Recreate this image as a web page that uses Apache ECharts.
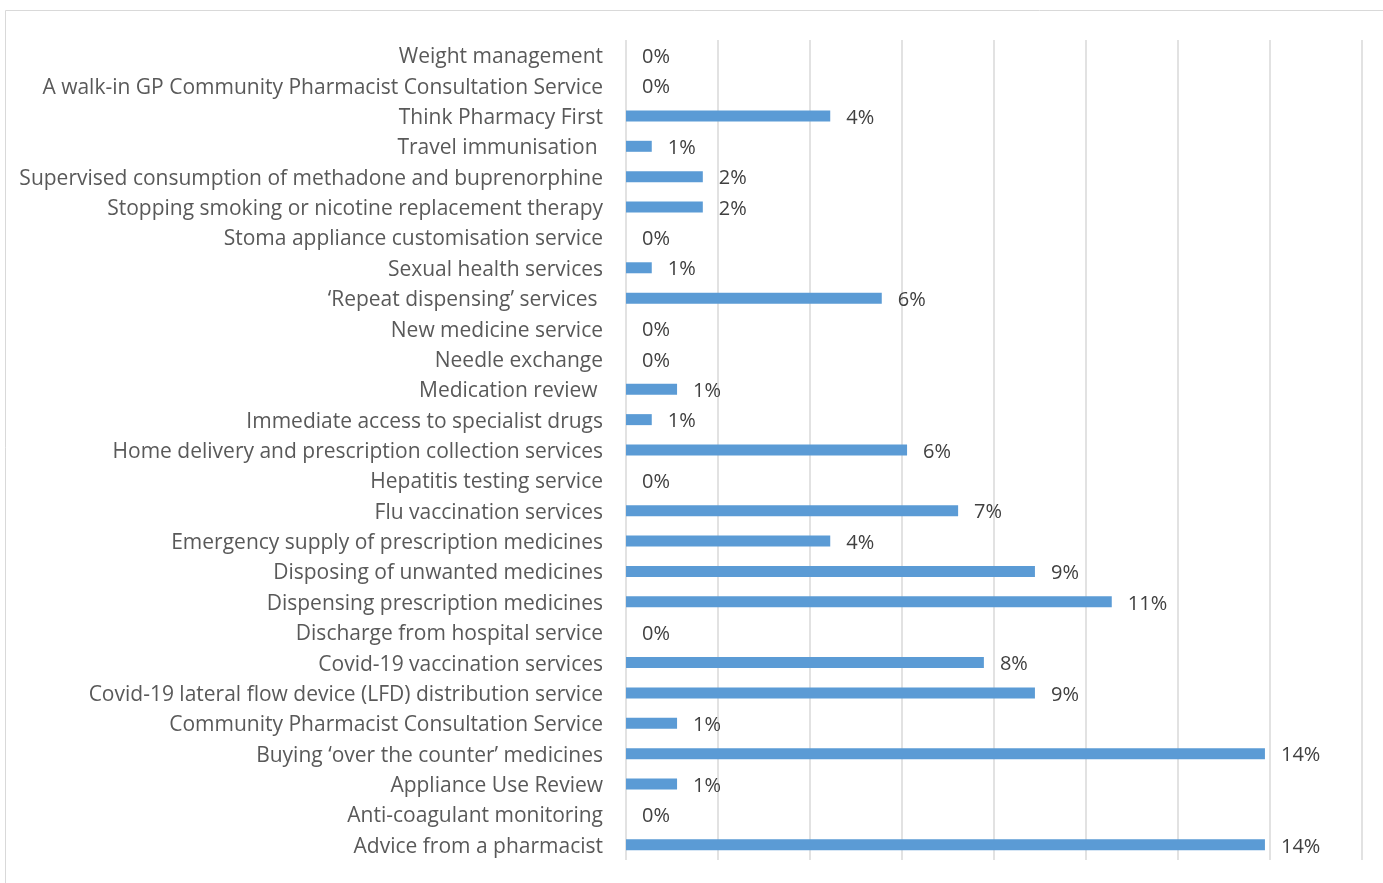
<!DOCTYPE html>
<html>
<head>
<meta charset="utf-8">
<script src="https://cdn.jsdelivr.net/npm/echarts@6/dist/echarts.min.js"></script>
<style>
  html, body { margin: 0; padding: 0; background: #ffffff; }
  #chart { width: 1383px; height: 883px; }
</style>
</head>
<body>
<div id="chart"></div>
<script>
// Services used at the pharmacy, top to bottom
const categories = [
  'Weight management',
  'A walk-in GP Community Pharmacist Consultation Service',
  'Think Pharmacy First',
  'Travel immunisation ',
  'Supervised consumption of methadone and buprenorphine',
  'Stopping smoking or nicotine replacement therapy',
  'Stoma appliance customisation service',
  'Sexual health services',
  '\u2018Repeat dispensing\u2019 services ',
  'New medicine service',
  'Needle exchange',
  'Medication review ',
  'Immediate access to specialist drugs',
  'Home delivery and prescription collection services',
  'Hepatitis testing service',
  'Flu vaccination services',
  'Emergency supply of prescription medicines',
  'Disposing of unwanted medicines',
  'Dispensing prescription medicines',
  'Discharge from hospital service',
  'Covid-19 vaccination services',
  'Covid-19 lateral flow device (LFD) distribution service',
  'Community Pharmacist Consultation Service',
  'Buying \u2018over the counter\u2019 medicines',
  'Appliance Use Review',
  'Anti-coagulant monitoring',
  'Advice from a pharmacist'
];

// Share of responses, in percent
const shares = [
  0, 0, 4.44, 0.56, 1.67, 1.67, 0, 0.56, 5.56, 0, 0, 1.11, 0.56, 6.11, 0,
  7.22, 4.44, 8.89, 10.56, 0, 7.78, 8.89, 1.11, 13.89, 1.11, 0, 13.89
];

// Value axis ticks (percent)
const axisMin = 0;
const axisMax = 16;
const axisStep = 2;

const FONT = 'Open Sans';

const chart = echarts.init(document.getElementById('chart'), null, { renderer: 'canvas' });

chart.setOption({
  animation: false,
  backgroundColor: '#ffffff',
  textStyle: { fontFamily: FONT },
  graphic: [{
    type: 'rect',
    silent: true,
    shape: { x: 5.5, y: 10.5, width: 1500, height: 1000 },
    style: { fill: 'none', stroke: '#d9d9d9', lineWidth: 1 }
  }],
  grid: { left: 626, right: 21, top: 40, bottom: 23, containLabel: false },
  xAxis: {
    type: 'value',
    min: axisMin,
    max: axisMax,
    interval: axisStep,
    axisLine: { show: false },
    axisTick: { show: false },
    axisLabel: { show: false },
    splitLine: { show: true, lineStyle: { color: '#d9d9d9', width: 1.5 } }
  },
  yAxis: {
    type: 'category',
    data: categories,
    inverse: true,
    axisLine: { show: false },
    axisTick: { show: false },
    axisLabel: {
      margin: 23,
      color: '#595959',
      fontFamily: FONT,
      fontSize: 21,
      formatter: v => '{t|' + v + '}',
      rich: {
        t: { color: '#595959', fontFamily: FONT, fontSize: 21, padding: [4, 0, 0, 0] }
      }
    }
  },
  series: [{
    type: 'bar',
    data: shares,
    barWidth: 11,
    itemStyle: { color: '#5b9bd5' },
    label: {
      show: true,
      position: 'right',
      distance: 16,
      color: '#404040',
      fontFamily: FONT,
      fontSize: 20,
      formatter: p => '{t|' + Math.round(p.value) + '%}',
      rich: {
        t: { color: '#404040', fontFamily: FONT, fontSize: 20, padding: [4, 0, 0, 0] }
      }
    }
  }]
});
</script>
</body>
</html>
